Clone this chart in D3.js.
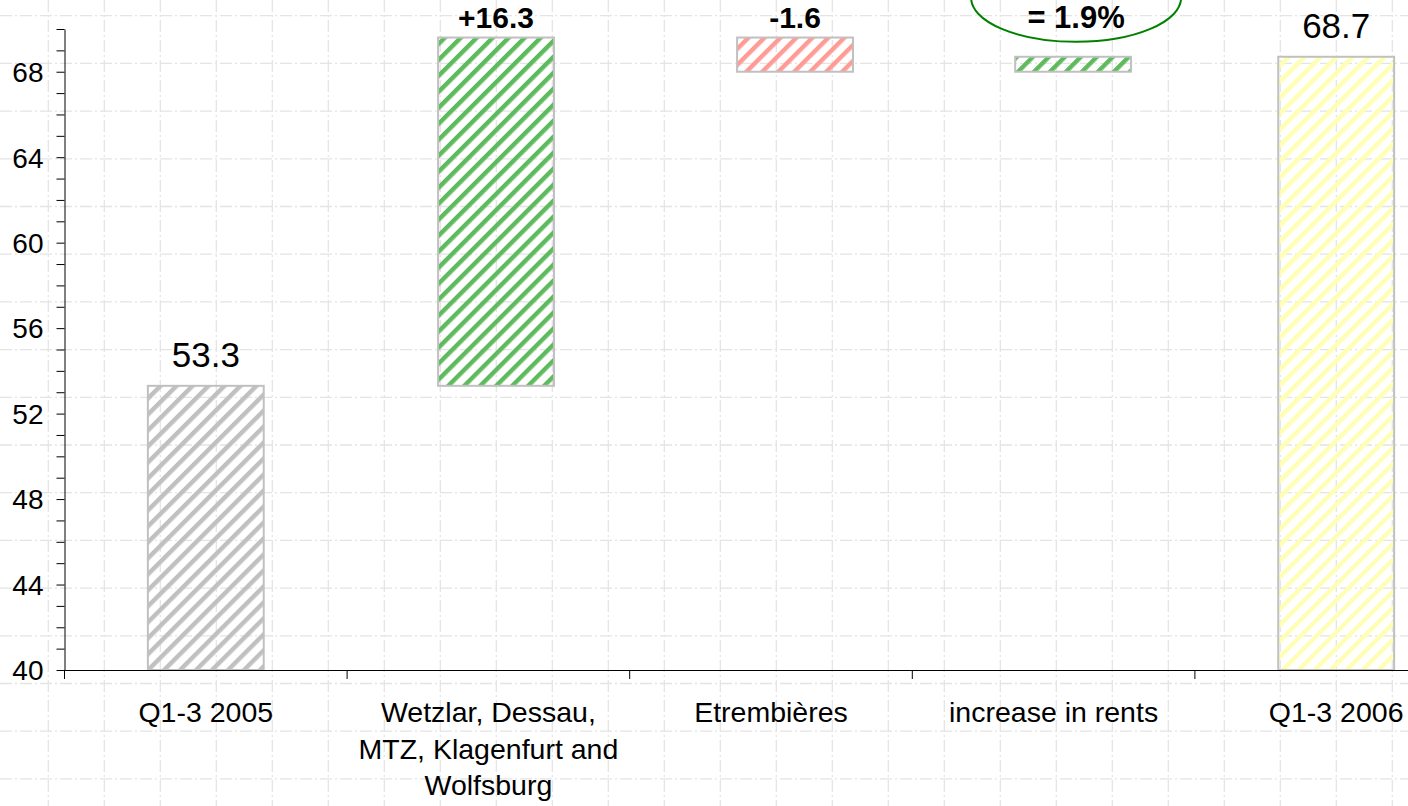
<!DOCTYPE html>
<html>
<head>
<meta charset="utf-8">
<script src="https://cdn.jsdelivr.net/npm/d3@7"></script>
<style>
  html, body { margin: 0; padding: 0; background: #fff; }
  svg { display: block; }
  text { font-family: "Liberation Sans", Arial, sans-serif; }
</style>
</head>
<body>
<svg id="chart" width="1408" height="806"></svg>
<script>
// Retail space bridge: Q1-3 2005 to Q1-3 2006
const categories = [
  "Q1-3 2005",
  "Wetzlar, Dessau, MTZ, Klagenfurt and Wolfsburg",
  "Etrembières",
  "increase in rents",
  "Q1-3 2006"
];
const stepKinds = ["total", "delta", "delta", "delta", "total"];
const stepValues = [53.3, 16.3, -1.6, 0.7, 68.7];
const rentGrowthPct = 1.9;
const yDomain = [40, 70];
const yTickLabels = [40, 44, 48, 52, 56, 60, 64, 68];

// ---- layout ----
const W = 1408, H = 806;
const plotLeft = 64.5, plotTop = 29, plotBottom = 670;
const bandStep = 282.6;
const barFrac = 0.41;
// small horizontal offsets of the bars inside their bands (fraction of band)
const barNudge = [0, 0.027, 0.085, 0.069, 0];
const stripeColors = ["#c0c0c0", "#5dbb5d", "#ff9a94", "#5dbb5d", "#ffffb4"];
const font = "'Liberation Sans', Arial, sans-serif";

const svg = d3.select("#chart");

// ---- background grid (dash-dot) ----
const grid = svg.append("g").attr("stroke", "#e4e4e4").attr("stroke-width", 1.3)
  .attr("stroke-dasharray", "12,3,2,3");
grid.selectAll("line.v").data(d3.range(48.3, W, 56)).join("line").attr("class", "v")
  .attr("x1", d => d).attr("x2", d => d).attr("y1", 0).attr("y2", H);
grid.selectAll("line.h").data(d3.range(15.7, H, 47.7)).join("line").attr("class", "h")
  .attr("x1", 0).attr("x2", W).attr("y1", d => d).attr("y2", d => d);

// ---- scales ----
const x = d3.scaleBand().domain(categories)
  .range([plotLeft, plotLeft + bandStep * categories.length]).padding(0);
const y = d3.scaleLinear().domain(yDomain).range([plotBottom, plotTop]);

// ---- build waterfall steps ----
let running = 0;
const bars = categories.map((c, i) => {
  let lo, hi;
  if (stepKinds[i] === "total") {
    lo = yDomain[0]; hi = stepValues[i]; running = stepValues[i];
  } else {
    const start = running, end = running + stepValues[i];
    lo = Math.min(start, end); hi = Math.max(start, end); running = end;
  }
  return { c, i, kind: stepKinds[i], value: stepValues[i], lo, hi };
});

// ---- hatch patterns ----
const defs = svg.append("defs");
stripeColors.forEach((col, i) => {
  const p = defs.append("pattern").attr("id", "hatch" + i)
    .attr("patternUnits", "userSpaceOnUse")
    .attr("width", 11.3).attr("height", 11.3)
    .attr("patternTransform", "rotate(45)");
  p.append("rect").attr("x", 0).attr("y", 0).attr("width", 4.4).attr("height", 11.3)
    .attr("fill", col);
});

const bw = x.step() * barFrac;
const cx = d => x(d.c) + x.step() * (0.5 + barNudge[d.i]);

svg.append("g").selectAll("rect").data(bars).join("rect")
  .attr("x", d => cx(d) - bw / 2)
  .attr("y", d => y(d.hi))
  .attr("width", bw)
  .attr("height", d => y(d.lo) - y(d.hi))
  .attr("fill", d => `url(#hatch${d.i})`)
  .attr("stroke", "#c0c0c0")
  .attr("stroke-width", 2);

// ---- y axis ----
const yAxis = d3.axisLeft(y)
  .tickValues(d3.range(yDomain[0], yDomain[1] + 1, 1))
  .tickSize(8).tickSizeOuter(0).tickPadding(13)
  .tickFormat(d => yTickLabels.includes(d) ? d : "");
const gy = svg.append("g").attr("transform", `translate(${plotLeft},0)`).call(yAxis);
gy.select(".domain").attr("stroke", "#000");
gy.selectAll(".tick line").attr("stroke", "#000");
gy.selectAll(".tick text").attr("font-size", 28).attr("font-family", font)
  .attr("fill", "#000").attr("dy", "0.35em");

// ---- x axis ----
const gx = svg.append("g");
gx.append("line").attr("x1", plotLeft).attr("x2", W)
  .attr("y1", plotBottom + 0.5).attr("y2", plotBottom + 0.5).attr("stroke", "#000");
gx.selectAll("line.tk").data(categories).join("line").attr("class", "tk")
  .attr("x1", d => x(d)).attr("x2", d => x(d))
  .attr("y1", plotBottom).attr("y2", plotBottom + 9).attr("stroke", "#000");

// category labels, wrapped to fit the band
const lineH = 36.5;
const catText = gx.selectAll("text.cat").data(categories).join("text").attr("class", "cat")
  .attr("x", d => x(d) + x.step() / 2).attr("y", plotBottom + 52)
  .attr("text-anchor", "middle").attr("font-size", 28.5).attr("fill", "#000");
catText.each(function (d) {
  const t = d3.select(this);
  const cxp = x(d) + x.step() / 2;
  const words = d.split(" ");
  let line = [];
  let ts = t.append("tspan").attr("x", cxp).attr("dy", 0);
  words.forEach(w => {
    line.push(w);
    ts.text(line.join(" "));
    if (ts.node().getComputedTextLength() > 272 && line.length > 1) {
      line.pop();
      ts.text(line.join(" "));
      line = [w];
      ts = t.append("tspan").attr("x", cxp).attr("dy", lineH).text(w);
    }
  });
});

// ---- value labels ----
const fmtTotal = d3.format(".1f");
const fmtDelta = v => (v > 0 ? "+" : "-") + d3.format(".1f")(Math.abs(v));
const lbl = svg.append("g").attr("text-anchor", "middle").attr("fill", "#000");
bars.forEach(d => {
  if (d.kind === "total") {
    lbl.append("text").attr("x", cx(d)).attr("y", y(d.hi) - 19)
      .attr("font-size", 35).text(fmtTotal(d.value));
  } else if (d.i < 3) {
    lbl.append("text").attr("x", cx(d)).attr("y", y(d.hi) - 10)
      .attr("font-size", 30).attr("font-weight", "bold").text(fmtDelta(d.value));
  } else {
    // rent increase, called out with an ellipse
    svg.append("ellipse").attr("cx", cx(d) + 3).attr("cy", y(d.hi) - 59)
      .attr("rx", 105).attr("ry", 44)
      .attr("fill", "none").attr("stroke", "#008000").attr("stroke-width", 2);
    lbl.append("text").attr("x", cx(d) + 3).attr("y", y(d.hi) - 29)
      .attr("font-size", 31).attr("font-weight", "bold").text(`= ${rentGrowthPct}%`);
  }
});
</script>
</body>
</html>
